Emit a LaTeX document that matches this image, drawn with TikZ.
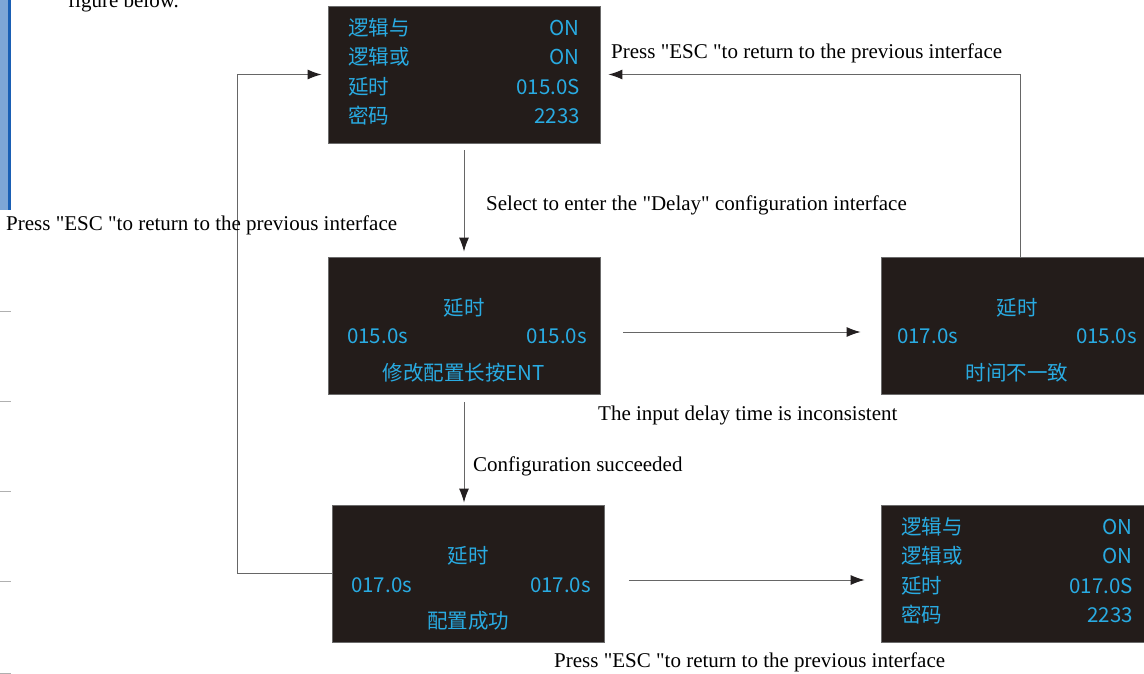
\documentclass[tikz,border=0pt]{standalone}
\usepackage{fontspec}
\setmainfont{Liberation Serif}[Ligatures=TeXOff]
\newfontfamily\cjk{Noto Sans CJK SC}
\usetikzlibrary{arrows.meta}

\definecolor{screen}{HTML}{231C1A}
\definecolor{screenedge}{HTML}{6B6B6B}
\definecolor{lcd}{HTML}{29ABE2}
\definecolor{wire}{HTML}{666666}
\definecolor{tipcol}{HTML}{231F20}
\definecolor{barlight}{HTML}{7EA6D6}
\definecolor{bardark}{HTML}{1A5FB4}
\definecolor{tickcol}{HTML}{B0B0B0}

\tikzset{
  panel/.style={draw=screenedge, line width=0.8pt, fill=screen,
    minimum width=272pt, minimum height=137pt, inner sep=0pt},
  lcdtext/.style={text=lcd, font=\cjk\fontsize{20.5}{24}\selectfont, inner sep=0pt},
  caption/.style={font=\fontsize{21}{25}\selectfont, text=black, inner sep=0pt, anchor=west},
  arr/.style={draw=wire, line width=1pt,
    -{Latex[length=14pt,width=10pt,color=tipcol]}},
  wireline/.style={draw=wire, line width=1pt},
}

\begin{document}
\begin{tikzpicture}[x=1pt,y=-1pt]
\clip (0,0) rectangle (1144,674);
\fill[white] (0,0) rectangle (1144,674);

% page edge: side bar, running text and margin ticks
\fill[barlight] (0,0) rectangle (8,210);
\fill[bardark] (8,0) rectangle (11,210);
\node[caption, anchor=base west] (fig) at (68,8) {figure below.};
\foreach \ty in {311,401,491,581,673}
  \draw[tickcol, line width=1pt] (0,\ty) -- (11,\ty);

% screens
\node[panel] (b1) at (464,74.5) {};
\node[panel] (b2) at (464,325.5) {};
\node[panel] (b3) at (1017,325.5) {};
\node[panel] (b4) at (468.5,573.5) {};
\node[panel] (b5) at (1017,573.5) {};

% main menu
\node[lcdtext, anchor=west] (b1l1) at (348,28) {逻辑与};
\node[lcdtext, anchor=east] (b1r1) at (580,28) {ON};
\node[lcdtext, anchor=west] (b1l2) at (348,57) {逻辑或};
\node[lcdtext, anchor=east] (b1r2) at (580,57) {ON};
\node[lcdtext, anchor=west] (b1l3) at (348,87) {延时};
\node[lcdtext, anchor=east] (b1r3) at (580,87) {015.0S};
\node[lcdtext, anchor=west] (b1l4) at (348,116) {密码};
\node[lcdtext, anchor=east] (b1r4) at (580,116) {2233};

% delay setting
\node[lcdtext] (b2t) at (464,308) {延时};
\node[lcdtext, anchor=west] (b2a) at (347,336) {015.0s};
\node[lcdtext, anchor=east] (b2b) at (587,336) {015.0s};
\node[lcdtext] (b2c) at (464,373) {修改配置长按ENT};

% mismatch
\node[lcdtext] (b3t) at (1017,308) {延时};
\node[lcdtext, anchor=west] (b3a) at (897,336) {017.0s};
\node[lcdtext, anchor=east] (b3b) at (1137,336) {015.0s};
\node[lcdtext] (b3c) at (1017,373) {时间不一致};

% success
\node[lcdtext] (b4t) at (468,556) {延时};
\node[lcdtext, anchor=west] (b4a) at (351,585) {017.0s};
\node[lcdtext, anchor=east] (b4b) at (591,585) {017.0s};
\node[lcdtext] (b4c) at (468,621) {配置成功};

% updated menu
\node[lcdtext, anchor=west] (b5l1) at (901,527) {逻辑与};
\node[lcdtext, anchor=east] (b5r1) at (1133,527) {ON};
\node[lcdtext, anchor=west] (b5l2) at (901,556) {逻辑或};
\node[lcdtext, anchor=east] (b5r2) at (1133,556) {ON};
\node[lcdtext, anchor=west] (b5l3) at (901,586) {延时};
\node[lcdtext, anchor=east] (b5r3) at (1133,586) {017.0S};
\node[lcdtext, anchor=west] (b5l4) at (901,615) {密码};
\node[lcdtext, anchor=east] (b5r4) at (1133,615) {2233};

% transitions (canvas y grows upward, so a gap below a box is a negative yshift)
\draw[arr] ([yshift=-7pt]b1.south) -- ([yshift=5pt]b2.north);
\draw[arr] ([yshift=-8pt]b2.south) -- ([yshift=2pt]b2.south |- b4.north);
\draw[arr] ([xshift=23pt,yshift=-6.5pt]b2.east) -- ([xshift=-20pt,yshift=-6.5pt]b3.west);
\draw[arr] ([xshift=24pt,yshift=-6.5pt]b4.east) -- ([xshift=-16pt,yshift=-6.5pt]b5.west);
\draw[arr] ([xshift=3pt]b3.north) |- ([xshift=8pt]b1.east);
\coordinate (lbend) at (237,573.5);
\draw[wireline] (b4.west) -- (lbend);
\draw[arr] (lbend) |- ([xshift=-6pt]b1.west);

% captions
\node[caption] (sel) at (486,205) {Select to enter the "Delay" configuration interface};
\node[caption] (conf) at (473,466) {Configuration succeeded};
\node[caption] (incons) at (598,415) {The input delay time is inconsistent};
\node[caption] (esc1) at (611,53) {Press "ESC "to return to the previous interface};
\node[caption] (esc2) at (6,225) {Press "ESC "to return to the previous interface};
\node[caption] (esc3) at (554,662) {Press "ESC "to return to the previous interface};
\end{tikzpicture}
\end{document}
